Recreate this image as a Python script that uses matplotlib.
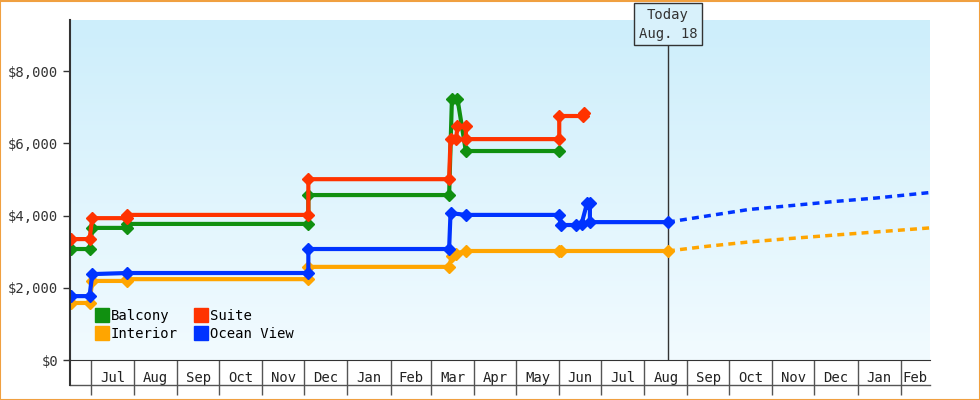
import matplotlib
matplotlib.use("Agg")
import matplotlib.pyplot as plt
import matplotlib.dates as mdates
import numpy as np
from datetime import datetime as D

plt.rcParams["font.family"] = "DejaVu Sans Mono"

balcony_dates = ["2023-06-17","2023-06-30","2023-07-02","2023-07-27","2023-07-27","2023-12-04","2023-12-04","2024-03-14","2024-03-16","2024-03-20","2024-03-26","2024-06-01"]
balcony_vals = [3075,3075,3660,3660,3770,3770,4570,4570,7230,7230,5790,5790]
suite_dates = ["2023-06-17","2023-06-30","2023-07-02","2023-07-27","2023-07-27","2023-12-04","2023-12-04","2024-03-14","2024-03-15","2024-03-19","2024-03-20","2024-03-26","2024-03-26","2024-06-01","2024-06-01","2024-06-18","2024-06-19"]
suite_vals = [3350,3350,3930,3930,4020,4020,5010,5010,6120,6120,6480,6480,6120,6120,6760,6760,6840]
interior_dates = ["2023-06-17","2023-06-30","2023-07-02","2023-07-27","2023-07-27","2023-12-04","2023-12-04","2024-03-14","2024-03-16","2024-03-19","2024-03-26","2024-06-01","2024-06-02","2024-08-18"]
interior_vals = [1580,1580,2190,2190,2240,2240,2580,2580,2880,2950,3020,3020,3020,3020]
ocean_dates = ["2023-06-17","2023-06-30","2023-07-02","2023-07-27","2023-12-04","2023-12-04","2024-03-14","2024-03-15","2024-03-26","2024-06-01","2024-06-02","2024-06-13","2024-06-17","2024-06-21","2024-06-23","2024-06-23","2024-08-18"]
ocean_vals = [1770,1770,2380,2410,2410,3075,3075,4070,4020,4020,3740,3740,3770,4350,4350,3820,3820]
proj_dates = ["2024-08-18","2024-09-15","2024-10-15","2024-11-15","2024-12-15","2025-01-15","2025-02-22"]
ocean_proj = [3820,3990,4170,4280,4390,4490,4640]
interior_proj = [3020,3150,3270,3370,3460,3550,3660]
today = "2024-08-18"

def d(lst): return [D.fromisoformat(s) for s in lst]

fig = plt.figure(figsize=(9.8, 4.0), dpi=100)
fig.patch.set_facecolor("white")
fig.add_artist(plt.Rectangle((0.0005, 0.001), 0.999, 0.997, transform=fig.transFigure,
                             fill=False, edgecolor="#f0a040", lw=1.5))
ax = fig.add_axes([70/980, 40/400, 860/980, 340/400])
xmin, xmax = D(2023, 6, 16), D(2025, 2, 22)
ax.set_xlim(xmin, xmax)
ax.set_ylim(0, 9420)
grad = np.linspace(0, 1, 256).reshape(-1, 1)
from matplotlib.colors import LinearSegmentedColormap
cm = LinearSegmentedColormap.from_list("g", ["#f2fbff", "#cdeefb"])
ax.imshow(grad, aspect="auto", cmap=cm, origin="lower",
          extent=[mdates.date2num(xmin), mdates.date2num(xmax), 0, 9420], zorder=0)

kw = dict(lw=3, marker="D", ms=6, solid_joinstyle="miter")
ax.plot(d(balcony_dates), balcony_vals, color="#109010", **kw)
ax.plot(d(suite_dates), suite_vals, color="#ff3300", **kw)
ax.plot(d(interior_dates), interior_vals, color="#ffa500", **kw)
ax.plot(d(ocean_dates), ocean_vals, color="#0033ff", **kw)
ax.plot(d(proj_dates), ocean_proj, color="#0033ff", lw=2.5, ls=(0, (2, 1.5)))
ax.plot(d(proj_dates), interior_proj, color="#ffa500", lw=2.5, ls=(0, (2, 1.5)))

t = D.fromisoformat(today)
ax.plot([t, t], [0, 8800], color="#333333", lw=1, zorder=1)
ax.text(t, 8850, "Today\nAug. 18", ha="center", va="bottom", fontsize=10, color="#333333",
        linespacing=1.4,
        bbox=dict(boxstyle="square,pad=0.35", fc="#d8f1fb", ec="#333333", lw=1))

ax.set_yticks([0, 2000, 4000, 6000, 8000])
ax.set_yticklabels(["$0", "$2,000", "$4,000", "$6,000", "$8,000"])
ax.tick_params(axis="y", length=5, width=1, labelsize=10, colors="#333333", direction="out")

months = [D(2023 + (6 + i) // 12, (6 + i) % 12 + 1, 1) for i in range(20)]
months = [m for m in months if xmin < m < xmax]
ax.set_xticks(months)
ax.set_xticklabels([])
ax.tick_params(axis="x", which="major", length=25, width=1, color="#555555", direction="out")
mids = []
for m in months:
    nm = D(m.year + (m.month // 12), m.month % 12 + 1, 1)
    mid = m + (min(nm, xmax) - m) / 2
    mids.append(mid)
ax.set_xticks(mids, minor=True)
ax.set_xticklabels([m.strftime("%b") for m in months], minor=True)
ax.tick_params(axis="x", which="minor", length=0, pad=8, labelsize=10, colors="#222222")

for s in ["top", "right"]:
    ax.spines[s].set_visible(False)
ax.spines["bottom"].set_color("#333333")
ax.spines["left"].set_color("#333333")
ax.spines["left"].set_linewidth(1.5)
ax.spines["left"].set_bounds(0, 9420)
ax.plot([0, 1], [-25/340*9420/9420*0 - 25/340, -25/340], transform=ax.transAxes,
        color="#555555", lw=1, clip_on=False)
ax.plot([0, 0], [-25/340, 0], transform=ax.transAxes, color="#333333", lw=1.5, clip_on=False)

from matplotlib.lines import Line2D
h = [Line2D([], [], color=c, marker="s", ls="none", ms=10) for c in ["#109010", "#ffa500", "#ff3300", "#0033ff"]]
ax.legend(h, ["Balcony", "Interior", "Suite", "Ocean View"], ncol=2, loc="lower left",
          bbox_to_anchor=(0.015, 0.02), frameon=False, fontsize=10, handletextpad=0.1,
          columnspacing=1.2, labelspacing=0.3, handlelength=1.0)

fig.savefig("out.png", dpi=100)
